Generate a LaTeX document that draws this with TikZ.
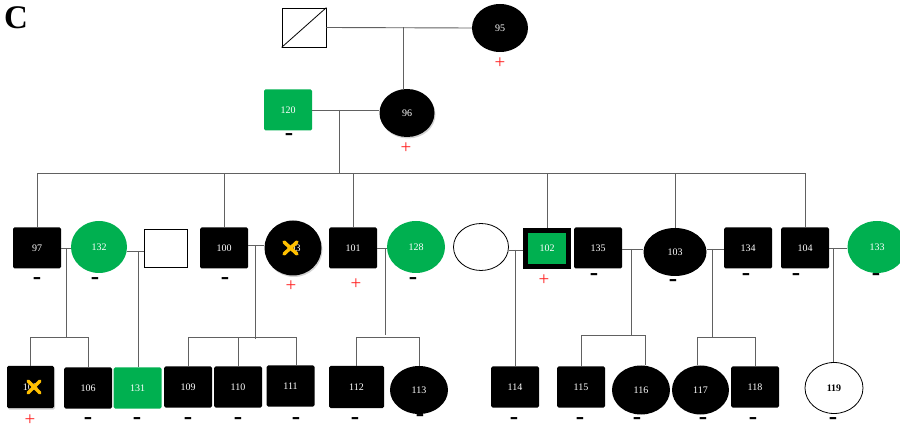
\documentclass[tikz,border=0pt]{standalone}
\usepackage{fontspec}
\setmainfont{Liberation Serif}
\usetikzlibrary{shapes.geometric,shadows}
\definecolor{pgreen}{HTML}{00B050}
\definecolor{pyel}{HTML}{FFC000}
\definecolor{pred}{HTML}{FF2020}
\begin{document}
\begin{tikzpicture}[x=1pt,y=-1pt,
  ln/.style={draw=black!62, line width=0.9pt},
  lab/.style={font=\fontsize{10}{10}\selectfont, text=white, inner sep=0pt},
  sq/.style={lab, rectangle, rounded corners=1.5pt, minimum width=48pt, minimum height=41pt},
  aff/.style={sq, fill=black},
  gsq/.style={sq, fill=pgreen},
  el/.style={lab, ellipse, minimum width=57pt, minimum height=49pt},
  ael/.style={el, fill=black},
  gel/.style={el, fill=pgreen, minimum width=57pt, minimum height=52pt},
  shd/.style={drop shadow={opacity=0.35, shadow xshift=1pt, shadow yshift=-1.5pt}},
  minusmk/.style={font=\bfseries\fontsize{25}{25}\selectfont, inner sep=0pt},
  plusmk/.style={font=\fontsize{19}{19}\selectfont, text=pred, inner sep=0pt},
  xmark/.style={draw=pyel, line width=3.5pt, line cap=round}
]
\useasboundingbox (0,0) rectangle (900,430);
\node[font=\bfseries\fontsize{33}{33}\selectfont, inner sep=0pt] (lc) at (16,17.5) {C};

% generation I
\node[draw=black, line width=0.8pt, rectangle, minimum width=44pt, minimum height=39pt, inner sep=0pt] (pU) at (304,27.5) {};
\draw[line width=0.8pt] (pU.south west) -- (pU.north east);
\node[ael, minimum width=56pt, minimum height=48pt] (p95) at (500,28) {95};
% generation II
\node[gsq] (p120) at (288,110) {120};
\node[ael, shd, minimum width=55pt, minimum height=48pt] (p96) at (407,113) {96};
% generation III
\node[aff] (p97) at (37,248) {97};
\node[gel, minimum width=56pt] (p132) at (99,247) {132};
\node[draw=black, line width=0.8pt, rectangle, minimum width=43pt, minimum height=38pt, inner sep=0pt] (pE1) at (166,248) {};
\node[aff] (p100) at (224,248) {100};
\node[ael, shd, minimum width=57pt, minimum height=55pt] (p103a) at (293,248) {103};
\draw[xmark] (284,242) -- (297,254) (284,254) -- (297,242);
\node[aff] (p101) at (353,248) {101};
\node[gel, minimum width=58pt] (p128) at (416,247) {128};
\node[draw=black, line width=0.8pt, ellipse, minimum width=55pt, minimum height=47pt, inner sep=0pt] (pE2) at (481,247) {};
\node[lab, rectangle, fill=pgreen, draw=black, line width=5pt, minimum width=43pt, minimum height=36pt, shd] (p102) at (547,248.5) {102};
\node[aff] (p135) at (598,248) {135};
\node[ael, minimum width=63pt, minimum height=48pt] (p103) at (675,252) {103};
\node[aff] (p134) at (748,248) {134};
\node[aff] (p104) at (805,248) {104};
\node[gel, minimum width=59pt] (p133) at (877,247) {133};
% generation IV
\node[aff, shd, minimum width=47pt, minimum height=42pt] (p105) at (30.5,387) {105};
\draw[xmark] (28,381) -- (40,393) (28,393) -- (40,381);
\node[aff] (p106) at (88,388) {106};
\node[gsq] (p131) at (137.5,388) {131};
\node[aff] (p109) at (188,387) {109};
\node[aff] (p110) at (238,387) {110};
\node[aff] (p111) at (290.5,386) {111};
\node[aff, minimum width=55pt, minimum height=42pt] (p112) at (356.5,387) {112};
\node[ael, minimum width=58pt, minimum height=48pt] (p113) at (419,390) {113};
\node[aff] (p114) at (515,387) {114};
\node[aff] (p115) at (581,387) {115};
\node[ael, minimum width=58pt, minimum height=49pt] (p116) at (641,390) {116};
\node[ael, minimum width=57pt, minimum height=49pt] (p117) at (700.5,390) {117};
\node[aff] (p118) at (755,387) {118};
\node[draw=black, line width=0.8pt, ellipse, minimum width=58pt, minimum height=51pt, inner sep=0pt, font=\bfseries\fontsize{10}{10}\selectfont] (p119) at (834,388) {119};

% status marks
\node[plusmk] (s95) at (500,63) {+};
\node[minusmk] (s120) at (289,137) {-};
\node[plusmk] (s96) at (406,148) {+};
\node[minusmk] (s97) at (37,281) {-};
\node[minusmk] (s132) at (95,281) {-};
\node[minusmk] (s100) at (225,281) {-};
\node[plusmk] (s103a) at (291,286) {+};
\node[plusmk] (s101) at (356,284) {+};
\node[minusmk] (s128) at (413,281) {-};
\node[plusmk] (s102) at (544,280) {+};
\node[minusmk] (s135) at (594,277) {-};
\node[minusmk] (s103) at (673,283) {-};
\node[minusmk] (s134) at (746,277) {-};
\node[minusmk] (s104) at (796,277) {-};
\node[minusmk] (s133) at (876,277) {-};
\node[plusmk] (s105) at (30,420) {+};
\foreach \n/\x in {106/88,131/137,109/188,110/238,111/296,112/355,114/514,115/580,116/637,117/703,118/753,119/833}
  \node[minusmk] (s\n) at (\x,421) {-};
\node[minusmk] (s113) at (420,418) {-};

% generation I connectors
\draw[ln] (pU.east) -- (p95.west);
\coordinate (m1) at (403,27.5);
\draw[ln] (m1) -- (m1 |- p96.north);
% generation II connectors
\draw[ln] (p120.east) -- (p120.east -| p96.west);
\coordinate (m2) at (339,110);
\coordinate (sib) at (0,173);
\draw[ln] (m2) -- (m2 |- sib);
\draw[ln] (p97.north) -- (p97.north |- sib) -- (p104.north |- sib) -- (p104.north);
\foreach \p in {p100,p101,p102,p103}
  \draw[ln] (\p.north) -- (\p.north |- sib);

% generation III couples and descent
\coordinate (s4) at (0,337);
\draw[ln] (p97.east) -- (p97.east -| p132.west);
\coordinate (c1) at (66,248);
\draw[ln] (c1) -- (c1 |- s4);
\draw[ln] (p105.north) -- (p105.north |- s4) -- (p106.north |- s4) -- (p106.north);

\draw[ln] (p132.east |- 0,251) -- (pE1.west |- 0,251);
\coordinate (c2) at (138,251);
\draw[ln] (c2) -- (c2 |- p131.north);

\draw[ln] ([yshift=3pt]p100.east) -- ([yshift=3pt]p100.east -| p103a.west);
\coordinate (c3) at (255,245);
\draw[ln] (c3) -- (255,339);
\draw[ln] (p109.north) -- (p109.north |- s4) -- ([xshift=5.5pt]p111.north |- s4) -- ([xshift=5.5pt]p111.north);
\draw[ln] (p110.north) -- (p110.north |- s4);

\draw[ln] (p101.east) -- (p101.east -| p128.west);
\coordinate (c4) at (385,248);
\draw[ln] (c4) -- (385,335);
\draw[ln] (p112.north) -- (p112.north |- s4) -- (p113.north |- s4) -- (p113.north);

\draw[ln] (pE2.east |- 0,250) -- (p102.west |- 0,250);
\coordinate (c5) at (515,250);
\draw[ln] (c5) -- (c5 |- p114.north);

\draw[ln] (p135.east |- 0,249) -- (p103.west |- 0,249);
\coordinate (c6) at (631,249);
\coordinate (s5) at (0,335);
\draw[ln] (c6) -- (c6 |- s5);
\draw[ln] (p115.north) -- (p115.north |- s5) -- ([xshift=4pt]p116.north |- s5) -- ([xshift=4pt]p116.north);

\draw[ln] (p103.east |- 0,249) -- (p134.west |- 0,249);
\coordinate (c7) at (712,249);
\draw[ln] (c7) -- (c7 |- s4);
\draw[ln] ([xshift=-3pt]p117.north) -- ([xshift=-3pt]p117.north |- s4) -- (p118.north |- s4) -- (p118.north);

\draw[ln] (p104.east) -- (p104.east -| p133.west);
\coordinate (c8) at (833,248);
\draw[ln] (c8) -- (c8 |- p119.north);
\end{tikzpicture}
\end{document}
